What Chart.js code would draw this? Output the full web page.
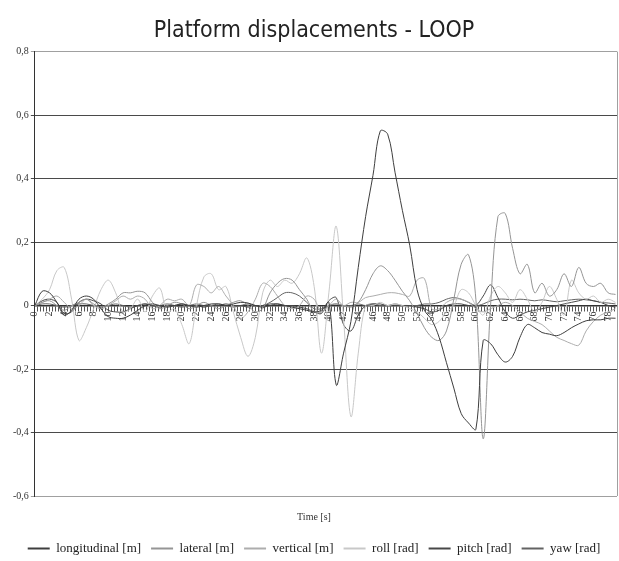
<!DOCTYPE html>
<html>
<head>
<meta charset="utf-8">
<script src="https://cdn.jsdelivr.net/npm/chart.js@4"></script>
<style>
  html, body { margin: 0; padding: 0; background: #fff; }
  #wrap { width: 619px; height: 561px; }
</style>
</head>
<body>
<div id="wrap"><canvas id="displacements"></canvas></div>
<script>
// time in seconds, one sample per second
const times = [0,1,2,3,4,5,6,7,8,9,10,11,12,13,14,15,16,17,18,19,20,21,22,23,24,25,26,27,28,29,
  30,31,32,33,34,35,36,37,38,39,40,41,42,43,44,45,46,47,48,49,50,51,52,53,54,55,56,57,58,59,
  60,61,62,63,64,65,66,67,68,69,70,71,72,73,74,75,76,77,78,79]

const xTickLabels = [0,2,4,6,8,10,12,14,16,18,20,22,24,26,28,30,32,34,36,38,
  40,42,44,46,48,50,52,54,56,58,60,62,64,66,68,70,72,74,76,78]

const yTickLabels = ['-0,6','-0,4','-0,2','0','0,2','0,4','0,6','0,8']

const longitudinal = [0,0.045,0.04,0.01,-0.03,-0.015,0.02,0.03,0.02,-0.01,
  -0.035,-0.04,-0.04,-0.03,-0.015,0,0.005,0,-0.005,0,
  0.005,0,-0.005,0,0.005,0.005,0,0.005,0.01,0.008,
  0,-0.005,0,0.005,0,-0.005,-0.01,-0.015,-0.02,-0.015,
  0.01,-0.25,-0.15,-0.05,0.12,0.28,0.41,0.55,0.54,0.42,
  0.3,0.19,0.05,-0.015,-0.045,-0.1,-0.18,-0.26,-0.34,-0.37,
  -0.39,-0.11,-0.12,-0.155,-0.178,-0.16,-0.1,-0.06,-0.07,-0.085,
  -0.09,-0.095,-0.085,-0.07,-0.058,-0.048,-0.045,-0.045,-0.04,-0.04]

const lateral = [0,0.01,0.015,0,-0.015,0,0.01,0.02,0.005,-0.005,
  0.005,0.02,0.04,0.04,0.045,0.04,0.01,-0.01,0,0.01,
  0.005,-0.01,0,0.01,0,-0.01,0,0.01,0.015,0,
  -0.02,-0.01,0.04,0.07,0.085,0.08,0.05,0.02,-0.02,-0.02,
  0,0.005,0,-0.005,0.01,0.05,0.1,0.125,0.11,0.08,
  0.045,0.015,-0.025,-0.07,-0.1,-0.11,-0.08,0.02,0.13,0.16,
  0.02,-0.42,0,0.28,0.29,0.18,0.1,0.13,0.04,0.07,
  0.03,0.05,0.1,0.06,0.12,0.07,0.06,0.07,0.04,0.035]

const vertical = [0,0.01,0.02,0.03,0.01,-0.01,0,0.02,0,-0.01,
  0,0.015,0.03,0.02,0.03,0.02,-0.01,0,0.02,0.015,
  0.02,0,0.065,0.06,0.04,0.06,0.03,0,-0.04,-0.02,
  0.02,0.07,0.06,0.03,0,-0.01,0,0.03,0.02,-0.02,
  0,0.02,0,0.01,0.01,0.025,0.03,0.035,0.04,0.04,
  0.035,0.03,0.08,0.085,-0.01,-0.01,0.01,0.02,0.02,0.01,
  -0.01,-0.02,-0.01,0,0.01,0,-0.02,-0.04,-0.05,-0.06,
  -0.08,-0.1,-0.11,-0.12,-0.125,-0.08,-0.05,-0.03,-0.02,-0.01]

const roll = [0,0.02,0.05,0.11,0.12,0.02,-0.11,-0.07,-0.01,0.05,
  0.08,0.04,-0.02,-0.01,0.02,-0.02,0.03,0.055,-0.02,-0.01,
  -0.06,-0.12,0,0.09,0.1,0.05,0.06,-0.02,-0.1,-0.16,
  -0.1,0.04,0.08,0.06,0.08,0.07,0.1,0.15,0.06,-0.15,
  0.04,0.25,-0.04,-0.35,-0.15,0,0,0.01,0,0.005,
  0,-0.01,-0.02,-0.04,-0.06,-0.05,-0.02,0,0.05,0.04,
  0,-0.03,0.03,0.06,0.04,0.01,0.05,0.02,-0.02,0.01,
  0.06,0.02,-0.03,0.08,0.04,0.02,0.03,0.01,0.02,0.01]

const pitch = [0,0.015,0.02,0.01,-0.025,-0.02,0.01,0.02,0.015,0.005,
  -0.015,-0.02,-0.02,-0.01,0,0.005,0,-0.005,0,0,
  0.005,0,0,-0.005,0,0,0.005,0,0,-0.005,
  0,0,0.005,0.005,0,0,-0.005,-0.01,-0.02,-0.025,
  0.015,0.025,-0.06,-0.08,-0.03,0,0.005,0.005,0,0,
  0,0,-0.005,-0.01,-0.02,-0.015,0,0.005,0.005,0,
  0,0.03,0.065,0.025,-0.02,-0.04,-0.03,-0.02,-0.015,-0.01,
  -0.005,0,0.005,0.01,0.015,0.02,0.015,0.01,0,-0.005]

const yaw = [0,0.005,0.005,0,-0.005,0,0.005,0.005,0,-0.005,
  0,0.005,0,-0.005,0,0.005,0,0,0.005,0,
  -0.005,0,0.005,0,0,0.005,0,-0.005,0,0.005,
  0,0,0.01,0.025,0.04,0.04,0.03,0.01,-0.01,-0.01,
  0,0.005,0,0,0.005,0,0.005,0,0,0.005,
  0,0,0,0.005,0.005,0.01,0.02,0.025,0.02,0.01,
  0,0.005,0.015,0.02,0.02,0.018,0.02,0.018,0.015,0.018,
  0.015,0.012,0.015,0.018,0.02,0.018,0.015,0.01,0.008,0.005]

const serif = "'Liberation Serif', 'Times New Roman', serif"

function series(label, data, color) {
  return {
    label: label,
    data: data,
    borderColor: color,
    backgroundColor: color,
    borderWidth: 1,
    pointRadius: 0,
    pointStyle: 'line',
    tension: 0.35,
    fill: false
  }
}

// grey border on the right of the plot area, like the original sheet
const plotBorder = {
  id: 'plotBorder',
  afterDatasetsDraw(chart) {
    const a = chart.chartArea
    const ctx = chart.ctx
    ctx.save()
    ctx.strokeStyle = '#a0a0a0'
    ctx.lineWidth = 1
    ctx.beginPath()
    ctx.moveTo(a.right + 0.5, a.top)
    ctx.lineTo(a.right + 0.5, a.bottom)
    ctx.stroke()
    ctx.restore()
  }
}

const ctx = document.getElementById('displacements')
const chart = new Chart(ctx, {
  type: 'line',
  data: {
    labels: times,
    datasets: [
      series('longitudinal [m]', longitudinal, '#3e3e3e'),
      series('lateral [m]', lateral, '#959595'),
      series('vertical [m]', vertical, '#adadad'),
      series('roll [rad]', roll, '#c8c8c8'),
      series('pitch [rad]', pitch, '#484848'),
      series('yaw [rad]', yaw, '#636363')
    ]
  },
  options: {
    responsive: true,
    maintainAspectRatio: false,
    animation: false,
    layout: { padding: { left: 11, right: 2, top: 0, bottom: -4 } },
    plugins: {
      title: {
        display: true,
        text: 'Platform displacements - LOOP',
        color: '#222',
        font: { family: "'DejaVu Sans Condensed', 'DejaVu Sans', sans-serif", size: 23, weight: 'normal' },
        padding: { top: 17, bottom: 7 }
      },
      subtitle: {
        display: true,
        position: 'bottom',
        weight: 500,
        text: 'Time [s]',
        color: '#333',
        font: { family: serif, size: 10 },
        padding: { top: 15, bottom: 9 }
      },
      legend: {
        position: 'bottom',
        labels: {
          usePointStyle: true,
          pointStyleWidth: 22,
          boxHeight: 13,
          padding: 10,
          color: '#222',
          font: { family: serif, size: 13 },
          generateLabels: function (chart) {
            const items = Chart.defaults.plugins.legend.labels.generateLabels(chart)
            items.forEach(function (it) {
              it.lineWidth = 2
              it.pointStyle = 'line'
            })
            return items
          }
        }
      },
      tooltip: { enabled: false }
    },
    scales: {
      x: {
        type: 'linear',
        position: { y: 0 },
        min: 0,
        max: 79.2,
        border: { display: true, color: '#333', width: 1.5 },
        grid: { display: true, drawOnChartArea: false, drawTicks: true, tickLength: 5, color: '#555' },
        // labels sit on the zero line, so they should not push the plot edges in
        afterFit: function (scale) {
          scale.paddingLeft = 0
          scale.paddingRight = 0
        },
        ticks: {
          stepSize: 0.4,
          autoSkip: false,
          minRotation: 90,
          maxRotation: 90,
          padding: 1,
          color: '#333',
          font: { family: serif, size: 10 },
          callback: function (v) {
            return xTickLabels.indexOf(v) >= 0 ? String(v) : ''
          }
        }
      },
      y: {
        min: -0.6,
        max: 0.8,
        border: { display: true, color: '#333', width: 1 },
        grid: {
          color: function (c) {
            const v = c.tick ? Math.round(c.tick.value * 10) / 10 : 0
            return (v === 0.8 || v === -0.6) ? '#a0a0a0' : '#4a4a4a'
          },
          tickLength: 4
        },
        ticks: {
          stepSize: 0.2,
          padding: 2,
          color: '#333',
          font: { family: serif, size: 10 },
          callback: function (v) {
            const i = Math.round((v + 0.6) / 0.2)
            return yTickLabels[i]
          }
        }
      }
    }
  },
  plugins: [plotBorder]
})
</script>
</body>
</html>
